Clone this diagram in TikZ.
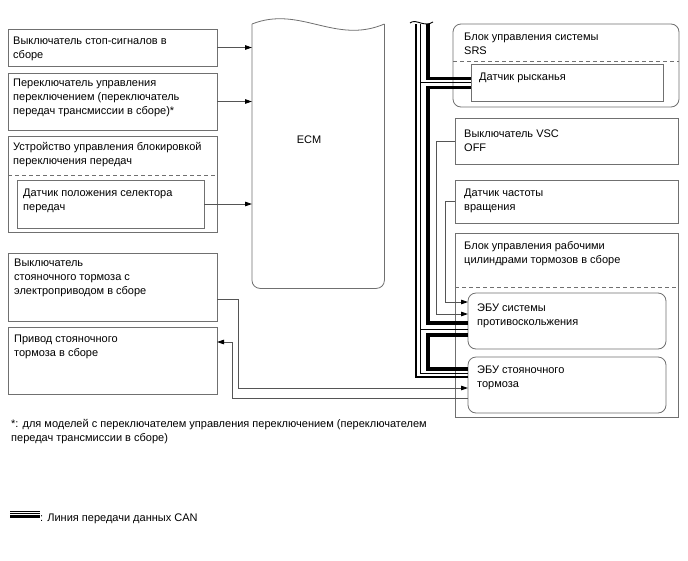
\documentclass[tikz,border=0pt]{standalone}
\usepackage{fontspec}
\setmainfont{Liberation Sans}
\usetikzlibrary{arrows.meta}
\definecolor{boxgray}{HTML}{707070}
\definecolor{linegray}{HTML}{555555}
\begin{document}
\begin{tikzpicture}[x=1pt,y=-1pt,
  box/.style={draw=boxgray, line width=0.8pt, anchor=north west, inner sep=0pt, outer sep=0pt},
  rbox/.style={box, rounded corners=8pt},
  txt/.style={anchor=north west, align=left, inner sep=0pt, font=\fontsize{11}{14}\selectfont},
  sepline/.style={draw=boxgray, line width=0.8pt, dash pattern=on 4pt off 3pt},
  boxline/.style={draw=boxgray, line width=0.8pt},
  conn/.style={draw=linegray, line width=0.8pt, -{Triangle[length=7pt,width=4.5pt,color=black]}},
  canR/.style={draw=black, line width=3.5pt},
  canM/.style={draw=black, line width=1pt},
  canL/.style={draw=black, line width=2pt},
]
\fill[white] (0,0) rectangle (688,560);
\useasboundingbox (0,0) rectangle (688,560);

% ---------- left boxes ----------
\node[box, minimum width=209pt, minimum height=37pt] (b1) at (8,29) {};
\node[txt] (t1) at ([shift={(5,8)}]b1.north west) {Выключатель стоп-сигналов в\\сборе};

\node[box, minimum width=209pt, minimum height=57pt] (b2) at (8,73) {};
\node[txt] (t2) at ([shift={(5,6)}]b2.north west) {Переключатель управления\\переключением (переключатель\\передач трансмиссии в сборе)*};

\node[box, minimum width=209pt, minimum height=96pt] (b3) at (8,136) {};
\node[txt] (t3) at ([shift={(5,6)}]b3.north west) {Устройство управления блокировкой\\переключения передач};
\draw[sepline] ([yshift=-39pt]b3.north west) -- ([yshift=-39pt]b3.north east);
\node[box, minimum width=187pt, minimum height=48pt] (b3i) at (17,180) {};
\node[txt] (t3i) at ([shift={(6,9)}]b3i.north west) {Датчик положения селектора\\передач};

\node[box, minimum width=209pt, minimum height=68pt] (b4) at (8,253) {};
\node[txt] (t4) at ([shift={(6,6)}]b4.north west) {Выключатель\\стояночного тормоза с\\электроприводом в сборе};

\node[box, minimum width=209pt, minimum height=67pt] (b5) at (8,327) {};
\node[txt] (t5) at ([shift={(6,8)}]b5.north west) {Привод стояночного\\тормоза в сборе};

% ---------- ECM ----------
\node[anchor=north west, inner sep=0pt, minimum width=132pt, minimum height=264pt] (ecm) at (252,24) {};
\draw[boxline, rounded corners=8pt] (ecm.north west) -- (ecm.south west) -- (ecm.south east) -- (ecm.north east);
\draw[boxline] (ecm.north west) .. controls (300,5) and (335,45) .. (ecm.north east);
\node[font=\fontsize{11}{14}\selectfont, inner sep=0pt] (ecmt) at (309,140) {ECM};

% ---------- right boxes ----------
\node[rbox, minimum width=226pt, minimum height=83pt] (srs) at (453,24) {};
\node[txt] (tsrs) at ([shift={(11,9)}]srs.north west) {Блок управления системы\\SRS};
\draw[sepline] ([yshift=-37pt]srs.north west) -- ([yshift=-37pt]srs.north east);
\node[box, minimum width=192pt, minimum height=37pt] (yaw) at (471,64) {};
\node[txt] (tyaw) at ([shift={(8,9)}]yaw.north west) {Датчик рысканья};

\node[box, minimum width=223pt, minimum height=46pt] (vsc) at (455,118) {};
\node[txt] (tvsc) at ([shift={(9,12)}]vsc.north west) {Выключатель VSC\\OFF};

\node[box, minimum width=223pt, minimum height=43pt] (spd) at (455,180) {};
\node[txt] (tspd) at ([shift={(9,9)}]spd.north west) {Датчик частоты\\вращения};

\node[box, minimum width=223pt, minimum height=184pt] (brk) at (455,233) {};
\node[txt] (tbrk) at ([shift={(9,8)}]brk.north west) {Блок управления рабочими\\цилиндрами тормозов в сборе};
\draw[sepline] ([yshift=-54pt]brk.north west) -- ([yshift=-54pt]brk.north east);

\node[rbox, minimum width=198pt, minimum height=56pt] (abs) at (468,293) {};
\node[txt] (tabs) at ([shift={(9,11)}]abs.north west) {ЭБУ системы\\противоскольжения};

\node[rbox, minimum width=198pt, minimum height=56pt] (pkb) at (468,357) {};
\node[txt] (tpkb) at ([shift={(9,9)}]pkb.north west) {ЭБУ стояночного\\тормоза};

% ---------- signal connectors ----------
\draw[conn] (b1.east) -- (b1.east -| ecm.west);
\draw[conn] (b2.east) -- (b2.east -| ecm.west);
\draw[conn] (b3i.east) -- (b3i.east -| ecm.west);

\draw[conn] ([yshift=-12pt]b4.east) -- ++(21,0) |- ([yshift=-3pt]pkb.west);
\draw[conn] ([yshift=-13pt]pkb.west) -| ([shift={(15,-18.5)}]b5.east) -- ([shift={(0,-18.5)}]b5.east);

\draw[conn] (vsc.west) -- ++(-19,0) |- ([yshift=7pt]abs.west);
\draw[conn] (spd.west) -- ++(-10,0) |- ([yshift=19pt]abs.west);

% ---------- CAN bus ----------
\coordinate (Rtop) at (428,24);
\coordinate (Mtop) at (420,24);
\coordinate (Ltop) at (416,24);
\draw[canR] (Rtop) |- ([yshift=4pt]yaw.west);
\draw[canR] ([yshift=-5pt]yaw.west) -- ++(-43,0) |- ([yshift=-2pt]abs.west);
\draw[canR] ([yshift=-14pt]abs.west) -- ++(-40,0) |- ([yshift=16pt]pkb.west);
\draw[canM] (Mtop) |- ([yshift=12pt]pkb.west);
\draw[canM] (Mtop |- yaw.west) -- (yaw.west);
\draw[canM] ([yshift=-8pt]abs.west) -- ++(-48,0);
\draw[canL] (Ltop) |- ([yshift=8pt]pkb.west);
\draw[black, line width=0.9pt] (410,23) .. controls (416,18) and (424,28) .. (433,22);

% ---------- footnote & legend ----------
\node[txt] (foot) at (11,419.5) {*: для моделей с переключателем управления переключением (переключателем\\передач трансмиссии в сборе)};
\coordinate (lg) at (10,511);
\draw[black, line width=1pt] (lg) -- ++(30,0);
\draw[black, line width=1pt] ([yshift=-2.5pt]lg) -- ++(30,0);
\draw[black, line width=2.2pt] ([yshift=-5.5pt]lg) -- ++(30,0);
\node[anchor=base west, inner sep=0pt, font=\fontsize{11}{14}\selectfont] (lgt) at (40,521) {: Линия передачи данных CAN};
\end{tikzpicture}
\end{document}
